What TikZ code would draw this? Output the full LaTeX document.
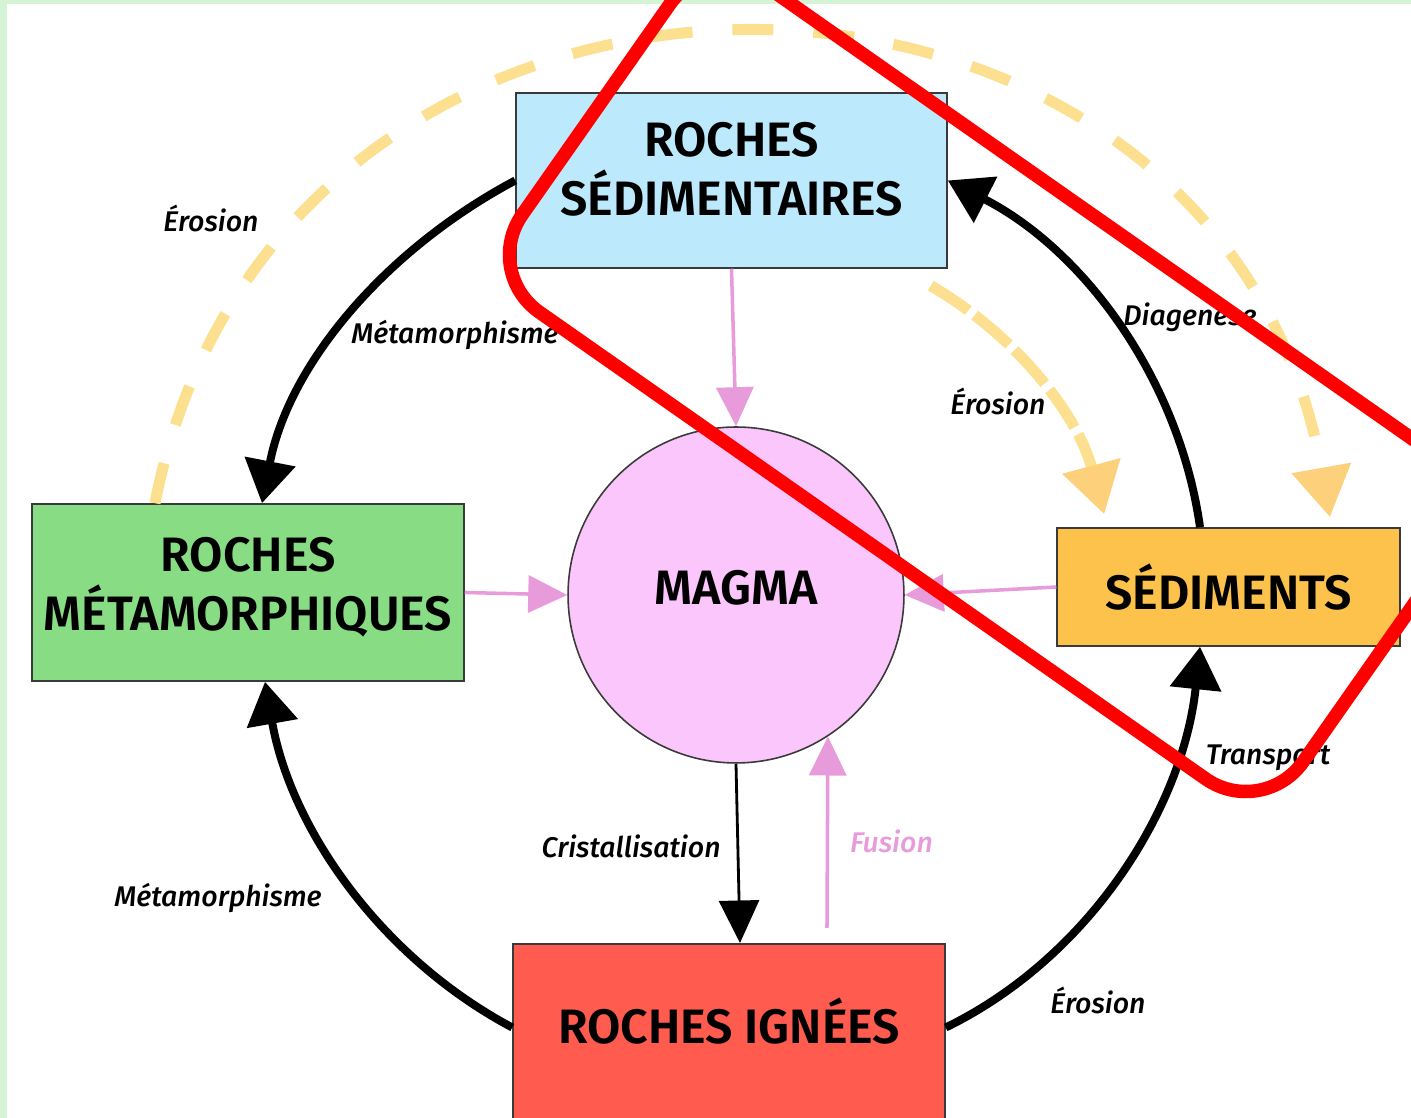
\documentclass[tikz,border=0pt]{standalone}
\usepackage{fontspec}
\IfFontExistsTF{Fira Sans SemiBold}
  {\setmainfont{Fira Sans}[BoldFont={Fira Sans SemiBold}]}
  {\setmainfont{Fira Sans}}
\IfFontExistsTF{Fira Sans Medium Italic}
  {\newfontfamily\lblfont{Fira Sans Medium Italic}}
  {\newfontfamily\lblfont{Fira Sans Italic}}
\usetikzlibrary{arrows.meta, positioning, calc}
\definecolor{framegreen}{HTML}{D5F4D5}
\definecolor{boxline}{HTML}{3A3A3A}
\definecolor{sedblue}{HTML}{BDE9FC}
\definecolor{metagreen}{HTML}{88DC84}
\definecolor{magpink}{HTML}{FAC6FB}
\definecolor{sedorange}{HTML}{FDC24B}
\definecolor{ignred}{HTML}{FF5B4E}
\definecolor{flowpink}{HTML}{E89BDB}
\definecolor{dashyel}{HTML}{FCE08F}
\definecolor{tipyel}{HTML}{FDD07C}
\tikzset{
  rock/.style={draw=boxline, line width=0.9pt, fill=#1, inner sep=0pt, text=black,
    font=\bfseries\fontsize{27.5}{33.5}\selectfont},
  cyc/.style={line width=.16cm, -{Triangle[length=.85cm, width=1cm]}},
  flow/.style={draw=flowpink, line width=2pt, -{Triangle[length=.78cm, width=.74cm]}},
  crys/.style={line width=1.6pt, -{Triangle[length=.85cm, width=.8cm]}},
  ero/.style={draw=dashyel, line width=.22cm, dash pattern=on .82cm off .8cm,
    -{Triangle[length=1cm, width=1.15cm, color=tipyel]}},
  lbl/.style={font=\lblfont\fontsize{16.2}{19}\selectfont},
  redring/.style={draw=red, line width=.27cm, rounded corners=1.4cm},
}

\begin{document}
\begin{tikzpicture}[x=0.02cm, y=0.02cm]
    \clip (0,0) rectangle (1411,1118);
    \fill[framegreen] (0,0) rectangle (1411,1118);
    \fill[white] (7,0) rectangle (1411,1114);

    % rocks and magma
    \node[rock=sedblue, align=center, text depth=.48cm, minimum width=8.62cm, minimum height=3.5cm] (sed) at (731.5,937.5) {ROCHES\\SÉDIMENTAIRES};
    \node[rock=metagreen, align=center, text depth=.36cm, minimum width=8.64cm, minimum height=3.54cm] (meta) at (248,525.5) {ROCHES\\MÉTAMORPHIQUES};
    \node[rock=magpink, circle, text depth=.3cm, minimum size=6.72cm] (magma) at (736,523) {MAGMA};
    \node[rock=sedorange, minimum width=6.86cm, minimum height=2.36cm] (sedi) at (1228.5,531) {SÉDIMENTS};
    \node[rock=ignred, minimum width=8.64cm, anchor=north, text height=2cm, text depth=1.75cm] (ign) at (729,175) {ROCHES IGNÉES};

    % erosion (dashed)
    \draw[ero] ([xshift=-1.86cm]meta.north) to[out=79, in=100, looseness=1.4] ([xshift=2.03cm, yshift=.2cm]sedi.north);
    \draw[ero, dash pattern=on .9cm off .16cm] ([xshift=-.34cm, yshift=-.34cm]sed.south east) to[out=-30, in=105, looseness=.9] ([xshift=.96cm, yshift=.26cm]sedi.north west);

    % the cycle
    \draw[cyc] (sed.west) to[out=208, in=79, looseness=.9] ([xshift=.28cm]meta.north);
    \draw[cyc] ([yshift=.2cm]ign.west) to[out=152, in=280, looseness=.9] ([xshift=.34cm]meta.south);
    \draw[cyc] ([yshift=.2cm]ign.east) to[out=26, in=264, looseness=.9] ([xshift=-.57cm]sedi.south);
    \draw[cyc] ([xshift=-.57cm]sedi.north) to[out=98, in=333, looseness=.9] (sed.east);

    % into and out of the magma
    \draw[flow] (sed.south) -- (magma.north);
    \draw[flow] (meta.east) -- (magma.west);
    \draw[flow] (sedi.west) -- (magma.east);
    \coordinate (fusbase) at ([xshift=1.96cm, yshift=.3cm]ign.north);
    \draw[flow] (fusbase) -- node[lbl, text=flowpink, right=.3cm, pos=.45] (fus) {Fusion} (magma.-57);
    \draw[crys] (magma.south) -- node[lbl, left=.2cm, pos=.46] (cris) {Cristallisation} ([xshift=.22cm]ign.north);

    \node[lbl] (eroTL) at (211,900) {Érosion};
    \node[lbl] (metaTop) at (455,783) {Métamorphisme};
    \node[lbl] (diag) at (1190,801) {Diagenese};
    \node[lbl] (eroIn) at (998,717) {Érosion};
    \node[lbl] (transp) at (1268,360) {Transport};
    \node[lbl] (eroBR) at (1098,118) {Érosion};
    \node[lbl] (metaBot) at (218,220) {Métamorphisme};

    \draw[redring] (482,846) -- (1263,299) -- (1491,624) -- (710,1171) -- cycle;
\end{tikzpicture}
\end{document}
